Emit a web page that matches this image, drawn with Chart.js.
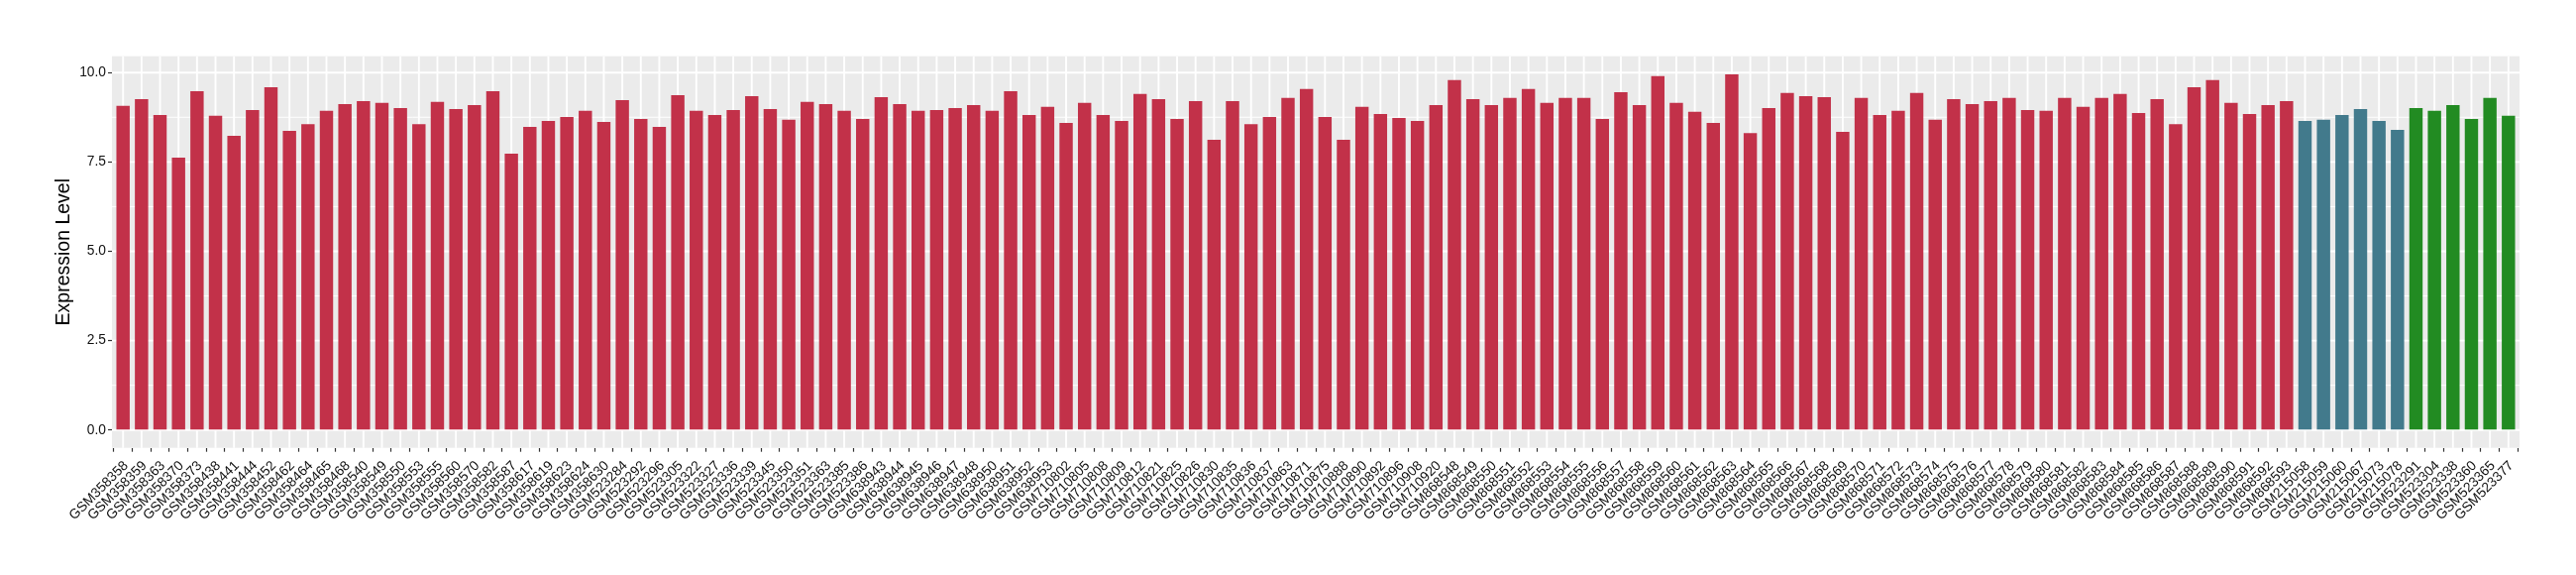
<!DOCTYPE html>
<html><head><meta charset="utf-8">
<script src="https://cdn.jsdelivr.net/npm/chart.js@4.4.1/dist/chart.umd.min.js"></script>
<style>html,body{margin:0;padding:0;background:#fff}#wrap{width:2600px;height:580px}</style>
</head><body><div id="wrap"><canvas id="c" width="2600" height="580"></canvas></div>
<script>
const redSamples = ["GSM358358","GSM358359","GSM358363","GSM358370","GSM358373","GSM358438","GSM358441","GSM358444","GSM358452","GSM358462","GSM358464","GSM358465","GSM358468","GSM358540","GSM358549","GSM358550","GSM358553","GSM358555","GSM358560","GSM358570","GSM358582","GSM358587","GSM358617","GSM358619","GSM358623","GSM358624","GSM358630",
"GSM523284","GSM523292","GSM523296","GSM523305","GSM523322","GSM523327","GSM523336","GSM523339","GSM523345","GSM523350","GSM523351","GSM523363","GSM523385","GSM523386",
"GSM638943","GSM638944","GSM638945","GSM638946","GSM638947","GSM638948","GSM638950","GSM638951","GSM638952","GSM638953",
"GSM710802","GSM710805","GSM710808","GSM710809","GSM710812","GSM710821","GSM710825","GSM710826","GSM710830","GSM710835","GSM710836","GSM710837","GSM710863","GSM710871","GSM710875","GSM710888","GSM710890","GSM710892","GSM710896","GSM710908","GSM710920",
"GSM868548","GSM868549","GSM868550","GSM868551","GSM868552","GSM868553","GSM868554","GSM868555","GSM868556","GSM868557","GSM868558","GSM868559","GSM868560","GSM868561","GSM868562","GSM868563","GSM868564","GSM868565","GSM868566","GSM868567","GSM868568","GSM868569","GSM868570","GSM868571","GSM868572","GSM868573","GSM868574","GSM868575","GSM868576","GSM868577","GSM868578","GSM868579","GSM868580","GSM868581","GSM868582","GSM868583","GSM868584","GSM868585","GSM868586","GSM868587","GSM868588","GSM868589","GSM868590","GSM868591","GSM868592","GSM868593"];
const redValues = [9.07,9.26,8.81,7.62,9.48,8.79,8.23,8.95,9.59,8.37,8.56,8.93,9.12,9.20,9.15,9.01,8.56,9.18,8.98,9.09,9.48,7.73,8.48,8.65,8.76,8.93,
8.62,9.23,8.70,8.48,9.37,8.93,8.81,8.95,9.34,8.98,8.68,9.18,9.12,8.93,8.70,9.31,9.12,8.93,8.95,9.01,9.09,8.93,9.48,8.81,9.04,8.59,9.15,
8.81,8.65,9.40,9.26,8.70,9.20,8.12,9.20,8.56,8.76,9.29,9.54,8.76,8.12,9.04,8.84,8.73,8.65,9.09,9.79,9.26,9.09,9.29,9.54,9.15,9.29,
9.29,8.70,9.45,9.09,9.90,9.15,8.90,8.59,9.95,8.31,9.01,9.43,9.34,9.31,8.34,9.29,8.81,8.93,9.43,8.68,9.26,9.12,9.20,9.29,8.95,8.93,
9.29,9.04,9.29,9.40,8.87,9.26,8.56,9.59,9.79,9.15,8.84,9.09,9.20];
const blueSamples = ["GSM215058","GSM215059","GSM215060","GSM215067","GSM215073","GSM215078"];
const blueValues = [8.65,8.68,8.81,8.98,8.65,8.40];
const greenSamples = ["GSM523291","GSM523304","GSM523338","GSM523360","GSM523365","GSM523377"];
const greenValues = [9.01,8.93,9.09,8.70,9.29,8.79];
const yTickValues = [0, 2.5, 5, 7.5, 10];
const yMinorValues = [1.25, 3.75, 6.25, 8.75];
const yMin = -0.498, yMax = 10.458;
const groupColors = {red: "#C23149", blue: "#427A8C", green: "#228B22"};

const categories = redSamples.concat(blueSamples, greenSamples);
const values = redValues.concat(blueValues, greenValues);
const colors = redValues.map(() => groupColors.red)
  .concat(blueValues.map(() => groupColors.blue), greenValues.map(() => groupColors.green));

const FONT = "'Liberation Sans', Arial, Helvetica, sans-serif";

const panelPlugin = {
  id: 'panel',
  beforeDraw(chart) {
    const {ctx, chartArea: a, scales: {x, y}} = chart;
    ctx.save();
    ctx.fillStyle = '#ffffff';
    ctx.fillRect(0, 0, chart.width, chart.height);
    ctx.fillStyle = '#EBEBEB';
    ctx.fillRect(a.left, a.top, a.right - a.left, a.bottom - a.top);
    ctx.strokeStyle = '#ffffff';
    ctx.lineWidth = 1;
    yMinorValues.forEach(v => {
      const py = y.getPixelForValue(v);
      ctx.beginPath(); ctx.moveTo(a.left, py); ctx.lineTo(a.right, py); ctx.stroke();
    });
    ctx.lineWidth = 1.9;
    yTickValues.forEach(v => {
      const py = y.getPixelForValue(v);
      ctx.beginPath(); ctx.moveTo(a.left, py); ctx.lineTo(a.right, py); ctx.stroke();
    });
    categories.forEach((_, i) => {
      const px = x.getPixelForValue(i);
      ctx.beginPath(); ctx.moveTo(px, a.top); ctx.lineTo(px, a.bottom); ctx.stroke();
    });
    ctx.restore();
  }
};

new Chart(document.getElementById('c').getContext('2d'), {
  type: 'bar',
  data: {
    datasets: [{
      data: values.map((v, i) => ({x: i, y: v})),
      backgroundColor: colors,
      borderWidth: 0,
      barPercentage: 0.72,
      categoryPercentage: 1,
      grouped: false
    }]
  },
  options: {
    responsive: false,
    animation: false,
    devicePixelRatio: 1,
    layout: {padding: {top: 56.7, right: 57, left: 0, bottom: 0}},
    plugins: {legend: {display: false}, tooltip: {enabled: false}},
    scales: {
      x: {
        type: 'linear', min: -0.6, max: categories.length - 0.4, offset: false,
        afterBuildTicks: s => { s.ticks = categories.map((_, i) => ({value: i})); },
        afterFit: s => { s.height = 128.3; },
        grid: {drawOnChartArea: false, drawTicks: true, tickLength: 4, tickColor: '#333333', tickWidth: 1.2},
        border: {display: false},
        ticks: {
          autoSkip: false, maxRotation: 45, minRotation: 45, padding: 6, labelOffset: 3,
          color: '#111111', font: {family: FONT, size: 13.8},
          callback: v => categories[v]
        }
      },
      y: {
        min: yMin, max: yMax,
        afterBuildTicks: s => { s.ticks = yTickValues.map(v => ({value: v})); },
        afterFit: s => { s.width = 113; },
        grid: {drawOnChartArea: false, drawTicks: true, tickLength: 4, tickColor: '#333333', tickWidth: 1.2},
        border: {display: false},
        ticks: {
          padding: 2, color: '#111111', font: {family: FONT, size: 13.8},
          callback: v => Number(v).toFixed(1)
        },
        title: {
          display: true, text: 'Expression Level', color: '#000000',
          font: {family: FONT, size: 19.5}, padding: {top: 53.3, bottom: 0}
        }
      }
    }
  },
  plugins: [panelPlugin]
});
</script>
</body></html>
